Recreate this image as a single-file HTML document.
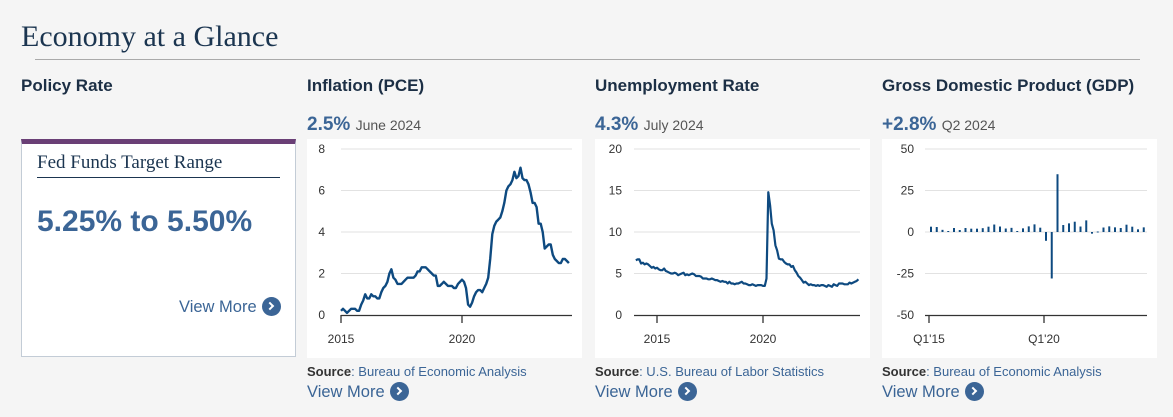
<!DOCTYPE html>
<html><head><meta charset="utf-8"><style>
body{margin:0;width:1173px;height:417px;background:#f5f5f5;font-family:"Liberation Sans",sans-serif;position:relative;overflow:hidden}
.abs{position:absolute}
.title{left:21px;top:20px;font-family:"Liberation Serif",serif;font-size:30px;color:#1b3550;white-space:nowrap}
.rule{left:35px;top:59px;width:1105px;height:1px;background:#aaa}
.h{top:76px;font-size:17px;font-weight:bold;color:#1c2f45;white-space:nowrap}
.num{top:114px;font-size:19px;font-weight:bold;color:#3b6596;white-space:nowrap}
.num span{font-size:14px;font-weight:normal;color:#555}
.card{background:#fff}
.src{top:364px;font-size:13px;color:#3b6596;white-space:nowrap}
.src b{color:#333}
.vm{font-size:16.5px;color:#3b6596;white-space:nowrap}
.ic{display:inline-block;width:19px;height:19px;border-radius:50%;background:#3b6596;vertical-align:-4px;margin-left:5px;position:relative}
.ic:after{content:"";position:absolute;left:5px;top:6px;width:4px;height:4px;border-right:2px solid #fff;border-top:2px solid #fff;transform:rotate(45deg)}
svg text{font-family:"Liberation Sans",sans-serif;font-size:12px;fill:#333}
</style></head><body>
<div class="abs title">Economy at a Glance</div>
<div class="abs rule"></div>

<div class="abs h" style="left:21px">Policy Rate</div>
<div class="abs" style="left:21px;top:139px;width:273px;height:212px;background:#fff;border:1px solid #c3ccd6;border-top:5px solid #6a3f76">
 <div class="abs" style="left:15px;top:8px;width:243px;padding-bottom:3px;border-bottom:1px solid #1b3550;font-family:'Liberation Serif',serif;font-size:19px;color:#1b3550">Fed Funds Target Range</div>
 <div class="abs" style="left:15px;top:61px;font-size:30px;font-weight:bold;color:#3b6596;white-space:nowrap">5.25% to 5.50%</div>
 <div class="abs vm" style="left:157px;top:153px">View More<span class="ic"></span></div>
</div>

<div class="abs h" style="left:307px">Inflation (PCE)</div>
<div class="abs num" style="left:307px">2.5% <span>June 2024</span></div>
<svg class="abs card" id="c1" style="left:307px;top:139px" width="275" height="219"></svg>
<div class="abs src" style="left:307px"><b>Source</b>: Bureau of Economic Analysis</div>
<div class="abs vm" style="left:307px;top:382px">View More<span class="ic"></span></div>

<div class="abs h" style="left:595px">Unemployment Rate</div>
<div class="abs num" style="left:595px">4.3% <span>July 2024</span></div>
<svg class="abs card" id="c2" style="left:595px;top:139px" width="275" height="219"></svg>
<div class="abs src" style="left:595px"><b>Source</b>: U.S. Bureau of Labor Statistics</div>
<div class="abs vm" style="left:595px;top:382px">View More<span class="ic"></span></div>

<div class="abs h" style="left:882px">Gross Domestic Product (GDP)</div>
<div class="abs num" style="left:882px">+2.8% <span>Q2 2024</span></div>
<svg class="abs card" id="c3" style="left:882px;top:139px" width="275" height="219"></svg>
<div class="abs src" style="left:882px"><b>Source</b>: Bureau of Economic Analysis</div>
<div class="abs vm" style="left:882px;top:382px">View More<span class="ic"></span></div>

<script>
// Inflation (PCE YoY %), monthly from Jan 2015
const pceValues=[0.2,0.3,0.2,0.1,0.2,0.3,0.3,0.3,0.2,0.2,0.5,0.7,
1.0,0.8,0.8,1.0,0.9,0.9,0.8,0.8,1.1,1.3,1.4,1.6,
2.0,2.2,1.8,1.7,1.5,1.5,1.5,1.6,1.7,1.8,1.8,1.8,
1.8,1.9,2.1,2.1,2.3,2.3,2.3,2.2,2.1,2.0,1.9,1.9,
1.4,1.4,1.5,1.6,1.5,1.4,1.4,1.4,1.3,1.3,1.5,1.6,
1.7,1.6,1.3,0.5,0.4,0.6,0.9,1.1,1.2,1.2,1.1,1.3,
1.5,1.8,2.7,3.9,4.3,4.5,4.6,4.7,5.0,5.4,6.0,6.2,
6.3,6.5,6.9,6.6,6.7,7.1,6.6,6.5,6.5,6.3,5.9,5.4,
5.4,5.2,4.4,4.4,4.0,3.2,3.3,3.4,3.4,2.9,2.7,2.6,
2.5,2.5,2.7,2.7,2.6,2.5];
const pceYTicks=[0,2,4,6,8];
const pceXTicks=[2015,2020];
// Unemployment rate %, monthly from Jan 2014
const unrateValues=[6.6,6.7,6.7,6.2,6.3,6.1,6.2,6.1,5.9,5.7,5.8,5.6,
5.7,5.5,5.4,5.4,5.6,5.3,5.2,5.1,5.0,5.0,5.1,5.0,
4.8,4.9,5.0,5.1,4.8,4.9,4.8,4.9,5.0,4.9,4.7,4.7,
4.7,4.6,4.4,4.4,4.4,4.3,4.3,4.4,4.3,4.2,4.2,4.1,
4.0,4.1,4.0,4.0,3.8,4.0,3.8,3.8,3.7,3.8,3.8,3.9,
4.0,3.8,3.8,3.7,3.6,3.6,3.7,3.6,3.5,3.6,3.6,3.6,
3.5,3.5,4.4,14.8,13.2,11.0,10.2,8.4,7.8,6.8,6.7,6.7,
6.4,6.2,6.1,6.1,5.8,5.9,5.4,5.1,4.7,4.5,4.2,3.9,
4.0,3.8,3.6,3.7,3.6,3.6,3.5,3.6,3.5,3.6,3.6,3.5,
3.4,3.6,3.5,3.4,3.7,3.6,3.5,3.8,3.8,3.8,3.7,3.7,
3.7,3.9,3.8,3.9,4.0,4.1,4.3];
const unrateYTicks=[0,5,10,15,20];
const unrateXTicks=[2015,2020];
// GDP quarterly growth %, from Q1 2015
const gdpValues=[3.2,3.0,1.3,0.6,2.4,1.2,2.4,2.0,2.0,2.3,3.2,4.5,3.3,2.1,2.5,0.6,2.2,3.4,4.6,2.6,
-5.3,-28.0,34.8,4.2,5.2,6.2,3.3,7.0,-1.0,0.3,2.7,3.4,2.8,2.4,4.4,3.2,1.6,2.8];
const gdpYTicks=[-50,-25,0,25,50];
const gdpXTicks=["Q1'15","Q1'20"];

const NS="http://www.w3.org/2000/svg";
function mk(svg,tag,attrs){const e=document.createElementNS(NS,tag);for(const k in attrs)e.setAttribute(k,attrs[k]);svg.appendChild(e);return e;}

function frame(svg,yTicks,ymin,ymax,x0,x1,top,bot,labX){
  const y=v=>bot-(v-ymin)/(ymax-ymin)*(bot-top);
  yTicks.forEach(t=>{
    if(t!==ymin){const g=mk(svg,'line',{x1:x0,x2:x1,y1:y(t),y2:y(t),stroke:'#e2e2e2','stroke-width':1});
    
    }
    const tx=mk(svg,'text',{x:labX,y:y(t)+4,'text-anchor':'end'});tx.textContent=t;
    
    
  });
  const ax=mk(svg,'line',{x1:x0,x2:x1,y1:bot+0.5,y2:bot+0.5,stroke:'#333','stroke-width':1.3});
  
  
  return y;
}
function xtick(svg,x,bot,label){
  const l=mk(svg,'line',{x1:x,x2:x,y1:bot,y2:bot+8,stroke:'#333','stroke-width':1.3});
  
  
  const t=mk(svg,'text',{x:x,y:bot+28,'text-anchor':'middle'});t.textContent=label;
  
  
}
(function(){const s=document.getElementById('c1');const top=10,bot=176,x0=34,x1=265;
 const y=frame(s,pceYTicks,0,8,x0,x1,top,bot,18);
 const yr=24.2,xs=yv=>x0+(yv-2015)*yr;
 pceXTicks.forEach(t=>xtick(s,xs(t),bot,t));
 const pts=pceValues.map((v,i)=>xs(2015+i/12).toFixed(1)+','+y(v).toFixed(1)).join(' ');
 const p=mk(s,'polyline',{points:pts,fill:'none',stroke:'#0e4a80','stroke-width':2.4,'stroke-linejoin':'round'});
 
 
})();
(function(){const s=document.getElementById('c2');const top=10,bot=176,x0=39,x1=265;
 const y=frame(s,unrateYTicks,0,20,x0,x1,top,bot,27);
 const yr=21.2,xs=yv=>62+(yv-2015)*yr;
 unrateXTicks.forEach(t=>xtick(s,xs(t),bot,t));
 const pts=unrateValues.map((v,i)=>xs(2014+i/12).toFixed(1)+','+y(v).toFixed(1)).join(' ');
 const p=mk(s,'polyline',{points:pts,fill:'none',stroke:'#0e4a80','stroke-width':2.2,'stroke-linejoin':'round'});
 
 
})();
(function(){const s=document.getElementById('c3');const top=10,bot=176,x0=43,x1=265;
 const y=frame(s,gdpYTicks,-50,50,x0,x1,top,bot,32);
 const q=5.75,xs=i=>47+i*q;
 gdpXTicks.forEach((t,k)=>xtick(s,xs(k*20),bot,t));
 gdpValues.forEach((v,i)=>{
  const yy=Math.min(y(v),y(0)),h=Math.max(Math.abs(y(v)-y(0)),1);
  const r=mk(s,'rect',{x:xs(i)+1,y:yy,width:2,height:h,fill:'#0e4a80'});
  
  
 });
})();
</script>
</body></html>
